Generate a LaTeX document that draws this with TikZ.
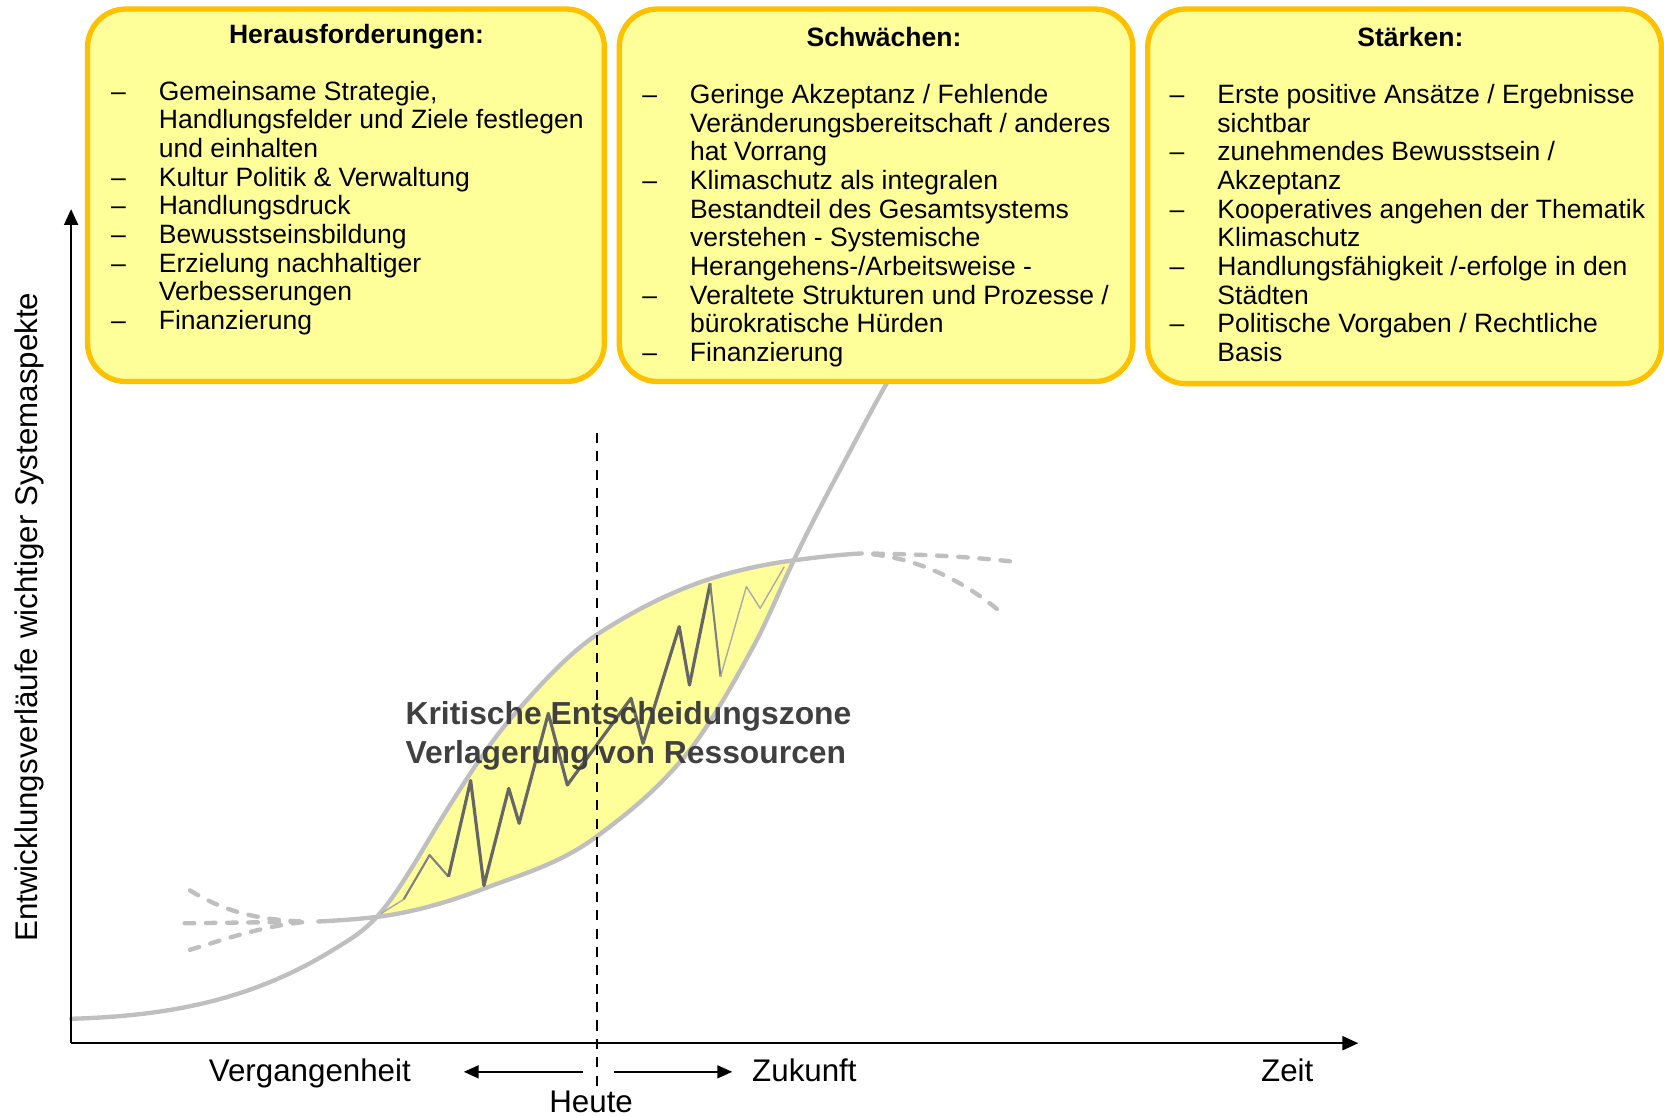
\documentclass[tikz,border=0pt]{standalone}
\usepackage{fontspec}
\setmainfont{Liberation Sans}
\usetikzlibrary{arrows.meta}

\definecolor{boxline}{HTML}{FFC000}
\definecolor{boxfill}{HTML}{FFFF99}
\definecolor{curvegray}{HTML}{BFBFBF}
\definecolor{zigdark}{HTML}{666666}
\definecolor{zigmidc}{HTML}{808080}
\definecolor{ziglight}{HTML}{A8A8A8}
\definecolor{zonetext}{HTML}{404040}

% list helpers: dash with hanging indent
\newcommand\itm{\makebox[45pt][l]{–}}
\newcommand\cnt{\hspace*{45pt}}

% the two development curves (y grows downwards), C1 cubic splines
\def\oldcurve{(67,960) .. controls (133.7,958) and (200.3,950) .. (267,920)
  .. controls (282.7,912.95) and (298.3,904.7) .. (314,895)
  .. controls (327.7,886.5) and (341.3,879) .. (355,864)
  .. controls (376.7,840.2) and (398.3,799.7) .. (420,765)
  .. controls (441,731.4) and (462,699.2) .. (483,675)
  .. controls (510,644) and (537,614.6) .. (564,597)
  .. controls (601.7,572.5) and (639.3,554.3) .. (677,543)
  .. controls (700.7,535.9) and (724.3,531.1) .. (748,528)
  .. controls (769.3,525.2) and (790.7,522.6) .. (812,521.5)}
\def\newcurve{(300,868.3) .. controls (318.3,867.4) and (336.7,866.2) .. (355,864)
  .. controls (389,859.9) and (423,849.9) .. (457,837)
  .. controls (492.7,823.4) and (528.3,813.8) .. (564,787)
  .. controls (591,766.8) and (618,745.4) .. (645,713)
  .. controls (666.7,687) and (688.3,649.1) .. (710,609)
  .. controls (722.7,585.6) and (735.3,554.6) .. (748,528)
  .. controls (768.7,484.6) and (789.3,447.3) .. (810,408)
  .. controls (826.7,376.3) and (843.3,346.7) .. (860,320)}

\begin{document}
\begin{tikzpicture}[x=1pt,y=-1pt,
  panel/.style={draw=boxline, line width=5pt, fill=boxfill, rounded corners=36pt},
  paneltitle/.style={anchor=base, inner sep=0pt, font=\fontsize{25}{27}\selectfont\bfseries},
  panellist/.style={anchor=base west, inner sep=0pt, font=\fontsize{25}{27}\selectfont},
  curve/.style={draw=curvegray, line width=4.1pt, line cap=round},
  curvedash/.style={curve, dash pattern=on 9pt off 11pt},
  axisline/.style={draw=black, line width=2.4pt, -{Triangle[length=15pt,width=13pt]}},
  timearrow/.style={draw=black, line width=2pt, -{Triangle[length=14pt,width=12pt]}},
  axislabel/.style={anchor=base, inner sep=0pt, font=\fontsize{29.5}{32}\selectfont},
  zigthick/.style={draw=zigdark, line width=3pt, line join=round},
  zigmid/.style={draw=zigmidc, line width=2pt, line join=round},
  zigthin/.style={draw=ziglight, line width=1.3pt, line join=round},
  zonelabel/.style={anchor=base west, inner sep=0pt, text=zonetext, font=\fontsize{30}{36}\selectfont\bfseries},
  today/.style={draw=black, line width=1.9pt, dash pattern=on 9.5pt off 7.8pt}
]
\useasboundingbox (0,0) rectangle (1568,1052);

% critical decision zone between the two curves
\begin{scope}
  \clip \oldcurve -- (812,1052) -- (67,1052) -- cycle;
  \fill[boxfill] \newcurve -- (860,0) -- (300,0) -- cycle;
\end{scope}

% development curves
\draw[curve] \oldcurve;
\draw[curve] \newcurve;

% dashed fan on the left
\coordinate (fanL) at (290,868.5);
\coordinate (fanLa) at (179,839);
\coordinate (fanLb) at (174,870);
\coordinate (fanLc) at (179,895);
\draw[curvedash] (fanLa) .. controls (210,858) and (240,867) .. (fanL);
\draw[curvedash] (fanLb) -- (fanL);
\draw[curvedash] (fanLc) .. controls (215,884) and (250,872) .. (fanL);

% dashed fan on the right
\coordinate (fanR) at (812,521.5);
\coordinate (fanRa) at (957,529.5);
\coordinate (fanRb) at (942,576);
\draw[curvedash, dash phase=9pt] (fanR) .. controls (860,522) and (910,524) .. (fanRa);
\draw[curvedash, dash phase=9pt] (fanR) .. controls (860,524) and (905,545) .. (fanRb);

% fluctuating actual course
\coordinate (z0) at (359.3,860.7);
\coordinate (z1) at (380.4,847.5);
\coordinate (z2) at (404.8,805.7);
\coordinate (z3) at (422.6,826.1);
\coordinate (z4) at (443.5,735.5);
\coordinate (z5) at (456.0,834.5);
\coordinate (z6) at (479.4,742.9);
\coordinate (z7) at (489.2,775.8);
\coordinate (z8) at (516.7,672.2);
\coordinate (z9) at (534.6,739.7);
\coordinate (z10) at (594.6,658.0);
\coordinate (z11) at (605.9,700.5);
\coordinate (z12) at (640.0,590.5);
\coordinate (z13) at (649.7,645.5);
\coordinate (z14) at (669.2,549.7);
\coordinate (z15) at (679.0,637.6);
\coordinate (z16) at (703.3,552.8);
\coordinate (z17) at (716.3,573.2);
\coordinate (z18) at (739.0,534.0);
\draw[zigthin] (z0) -- (z1);
\draw[zigmid] (z1) -- (z2) -- (z3);
\draw[zigthick] (z3) -- (z4) -- (z5) -- (z6) -- (z7) -- (z8) -- (z9) -- (z10) -- (z11) -- (z12) -- (z13) -- (z14);
\draw[zigmid] (z14) -- (z15);
\draw[zigthin] (z15) -- (z16) -- (z17) -- (z18);

% present day
\coordinate (todayTop) at (563,408);
\coordinate (todayBot) at (563,1025);
\draw[today] (todayTop) -- (todayBot);

\node[zonelabel] (zone) at (382,683) {\begin{tabular}[t]{@{}l@{}}Kritische Entscheidungszone\\Verlagerung von Ressourcen\end{tabular}};

% panels
\draw[panel] (82.5,8.5) rectangle (569.5,359.5);
\draw[panel] (583.5,8.5) rectangle (1067.5,359.5);
\draw[panel] (1081.5,8.5) rectangle (1565.5,361.5);

\node[paneltitle] (t1) at (336,41) {Herausforderungen:};
\node[paneltitle] (t2) at (833,44) {Schwächen:};
\node[paneltitle] (t3) at (1329,44) {Stärken:};

\node[panellist] (l1) at (104.5,94.5) {\begin{tabular}[t]{@{}l@{}}
\itm Gemeinsame Strategie,\\
\cnt Handlungsfelder und Ziele festlegen\\
\cnt und einhalten\\
\itm Kultur Politik \& Verwaltung\\
\itm Handlungsdruck\\
\itm Bewusstseinsbildung\\
\itm Erzielung nachhaltiger\\
\cnt Verbesserungen\\
\itm Finanzierung
\end{tabular}};

\node[panellist] (l2) at (605,97.5) {\begin{tabular}[t]{@{}l@{}}
\itm Geringe Akzeptanz / Fehlende\\
\cnt Veränderungsbereitschaft / anderes\\
\cnt hat Vorrang\\
\itm Klimaschutz als integralen\\
\cnt Bestandteil des Gesamtsystems\\
\cnt verstehen - Systemische\\
\cnt Herangehens-/Arbeitsweise -\\
\itm Veraltete Strukturen und Prozesse /\\
\cnt bürokratische Hürden\\
\itm Finanzierung
\end{tabular}};

\node[panellist] (l3) at (1102,97.5) {\begin{tabular}[t]{@{}l@{}}
\itm Erste positive Ansätze / Ergebnisse\\
\cnt sichtbar\\
\itm zunehmendes Bewusstsein /\\
\cnt Akzeptanz\\
\itm Kooperatives angehen der Thematik\\
\cnt Klimaschutz\\
\itm Handlungsfähigkeit /-erfolge in den\\
\cnt Städten\\
\itm Politische Vorgaben / Rechtliche\\
\cnt Basis
\end{tabular}};

% axes
\coordinate (origin) at (67,983);
\coordinate (ytip) at (67,197);
\coordinate (xtip) at (1280,983);
\draw[axisline] (origin) -- (ytip);
\draw[axisline] (origin) -- (xtip);

\node[axislabel, rotate=90] (ylabel) at (35,581.5) {Entwicklungsverläufe wichtiger Systemaspekte};

% time direction arrows
\coordinate (pastStart) at (549,1010);
\coordinate (pastEnd) at (437,1010);
\coordinate (futStart) at (579,1010);
\coordinate (futEnd) at (690,1010);
\draw[timearrow] (pastStart) -- (pastEnd);
\draw[timearrow] (futStart) -- (futEnd);

\node[axislabel] (past) at (292,1019.5) {Vergangenheit};
\node[axislabel] (future) at (758,1019.5) {Zukunft};
\node[axislabel] (time) at (1213,1019.5) {Zeit};
\node[axislabel] (heute) at (557,1048.5) {Heute};
\end{tikzpicture}
\end{document}
